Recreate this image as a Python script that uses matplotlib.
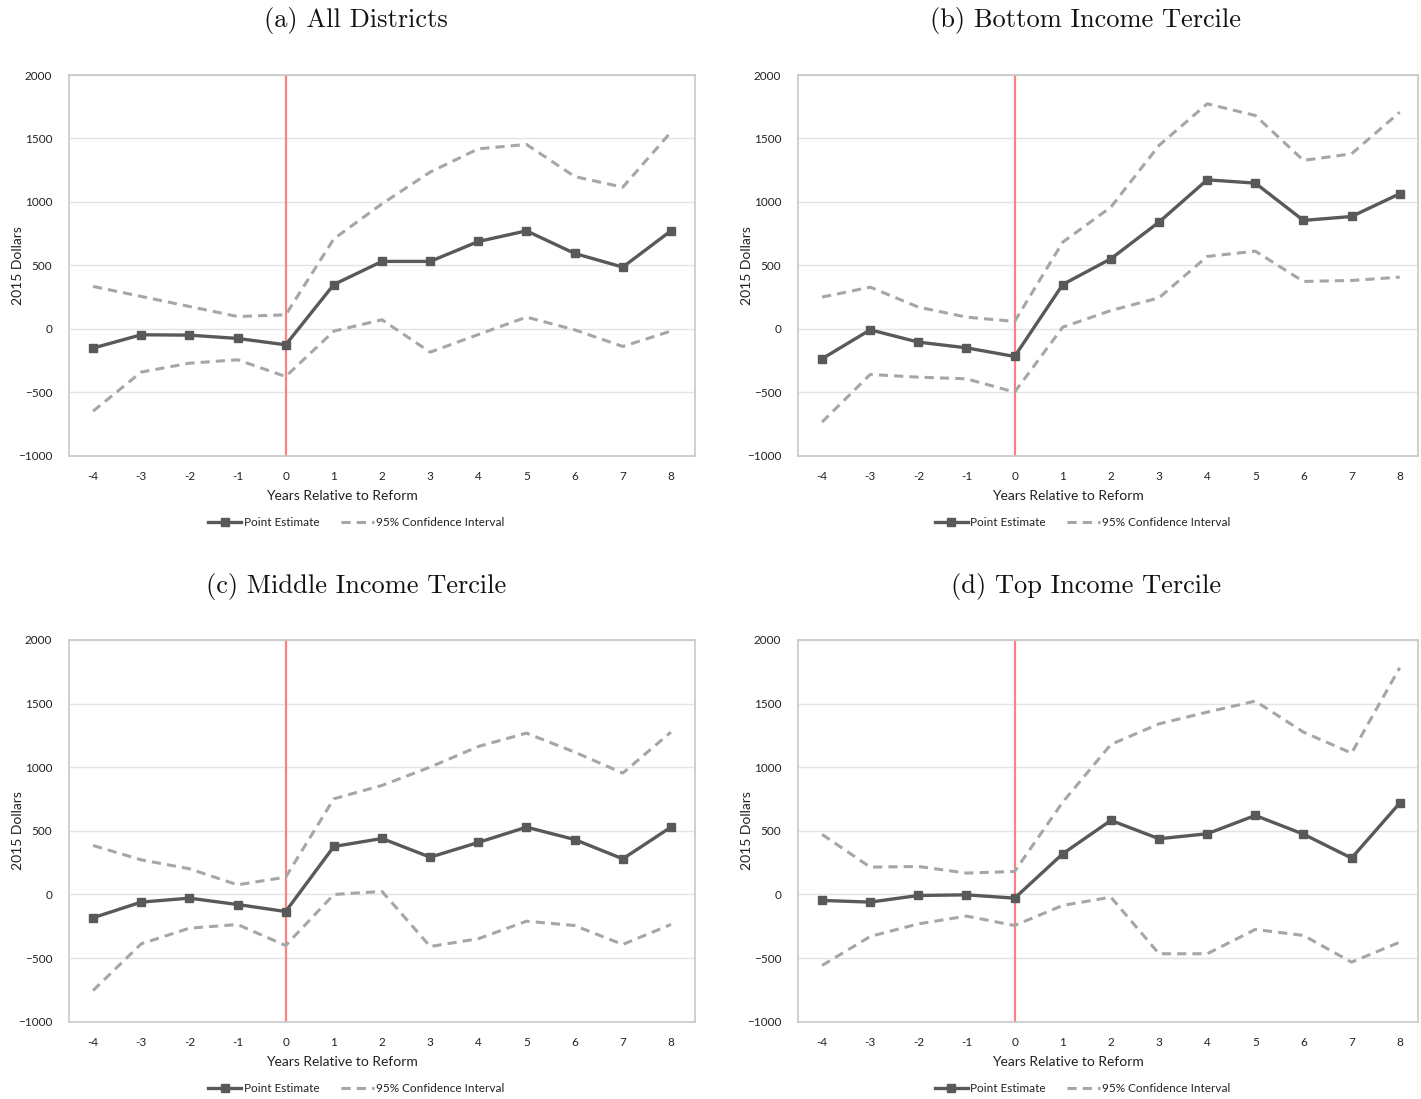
import matplotlib
matplotlib.use('Agg')
import matplotlib.pyplot as plt

plt.rcParams['font.family'] = ['Lato', 'DejaVu Sans']

years = [-4, -3, -2, -1, 0, 1, 2, 3, 4, 5, 6, 7, 8]

# (a) All Districts
est_a = [-152, -47, -50, -76, -126, 349, 531, 531, 688, 772, 594, 486, 772]
hi_a = [334, 255, 176, 97, 110, 709, 985, 1235, 1418, 1453, 1200, 1116, 1550]
lo_a = [-649, -341, -271, -244, -376, -18, 71, -184, -45, 92, -8, -139, -18]

# (b) Bottom Income Tercile
est_b = [-236, -8, -105, -150, -218, 349, 552, 841, 1174, 1148, 854, 885, 1064]
hi_b = [250, 328, 171, 92, 58, 683, 959, 1445, 1773, 1681, 1327, 1379, 1707]
lo_b = [-735, -360, -381, -394, -499, 13, 144, 244, 570, 612, 373, 381, 407]

# (c) Middle Income Tercile
est_c = [-183, -60, -29, -79, -134, 377, 440, 293, 409, 529, 432, 280, 529]
hi_c = [385, 272, 202, 76, 136, 752, 857, 1001, 1163, 1268, 1119, 954, 1276]
lo_c = [-755, -388, -265, -236, -401, 0, 24, -409, -348, -210, -244, -393, -236]

# (d) Top Income Tercile
est_d = [-47, -60, -8, -3, -29, 320, 582, 438, 477, 621, 474, 286, 718]
hi_d = [472, 215, 220, 168, 181, 726, 1179, 1341, 1433, 1520, 1276, 1111, 1782]
lo_d = [-558, -330, -231, -170, -244, -86, -21, -466, -466, -275, -322, -532, -375]

titles = ['(a) All Districts', '(b) Bottom Income Tercile',
          '(c) Middle Income Tercile', '(d) Top Income Tercile']

W, H = 1421, 1099
fig = plt.figure(figsize=(W / 100, H / 100), dpi=100)

# pixel boxes: left, top, right, bottom
boxes = [(69, 75, 695, 455.7), (798, 75, 1418, 455.7),
         (69, 640, 695, 1021.7), (798, 640, 1418, 1021.7)]
title_pos = [(356, 20), (1086, 20), (356, 586), (1086, 586)]
series = [(est_a, hi_a, lo_a), (est_b, hi_b, lo_b),
          (est_c, hi_c, lo_c), (est_d, hi_d, lo_d)]

for i in range(4):
    l, t, r, b = boxes[i]
    ax = fig.add_axes([l / W, 1 - b / H, (r - l) / W, (b - t) / H])
    est, hi, lo = series[i]

    ax.axvline(0, color='#FF8080', lw=1.6, zorder=1)
    ax.plot(years, hi, color='#A6A6A6', lw=2.2, ls=(0, (3, 2)), zorder=2,
            label='95% Confidence Interval')
    ax.plot(years, lo, color='#A6A6A6', lw=2.2, ls=(0, (3, 2)), zorder=2)
    ax.plot(years, est, color='#595959', lw=2.4, marker='s', markersize=5.5,
            zorder=3, label='Point Estimate')

    right_pad = 8.5 if i % 2 == 0 else 8.38
    ax.set_xlim(-4.5, right_pad)
    ax.set_ylim(-1000, 2000)
    ax.set_xticks(years)
    ax.set_xticklabels([str(y) for y in years])
    ax.set_yticks(range(-1000, 2001, 500))
    ax.grid(axis='y', color='#E3E3E3', lw=1)
    ax.set_axisbelow(True)
    for s in ax.spines.values():
        s.set_color('#C8C8C8')
        s.set_linewidth(1.2)
    ax.tick_params(length=0, labelsize=8.5, colors='#222222')
    ax.tick_params(axis='x', pad=11)
    ax.tick_params(axis='y', pad=12)

    ax.set_xlabel('Years Relative to Reform', fontsize=10, color='#222222')
    ax.xaxis.set_label_coords(0.436, -0.09)
    ax.set_ylabel('2015 Dollars', fontsize=10, color='#222222')
    ax.yaxis.set_label_coords(-0.072, 0.5)

    h, lab = ax.get_legend_handles_labels()
    ax.legend(h[::-1], lab[::-1], loc='center', bbox_to_anchor=(0.459, -0.175),
              ncol=2, frameon=False, fontsize=8.5, handlelength=2.8,
              handletextpad=0.2, columnspacing=1.8, labelcolor='#222222')

    tx, ty = title_pos[i]
    fig.text(tx / W, 1 - ty / H, titles[i], ha='center', va='center',
             fontsize=19, family='cmr10', color='#111111')

fig.savefig('out.png', dpi=100, facecolor='white')
